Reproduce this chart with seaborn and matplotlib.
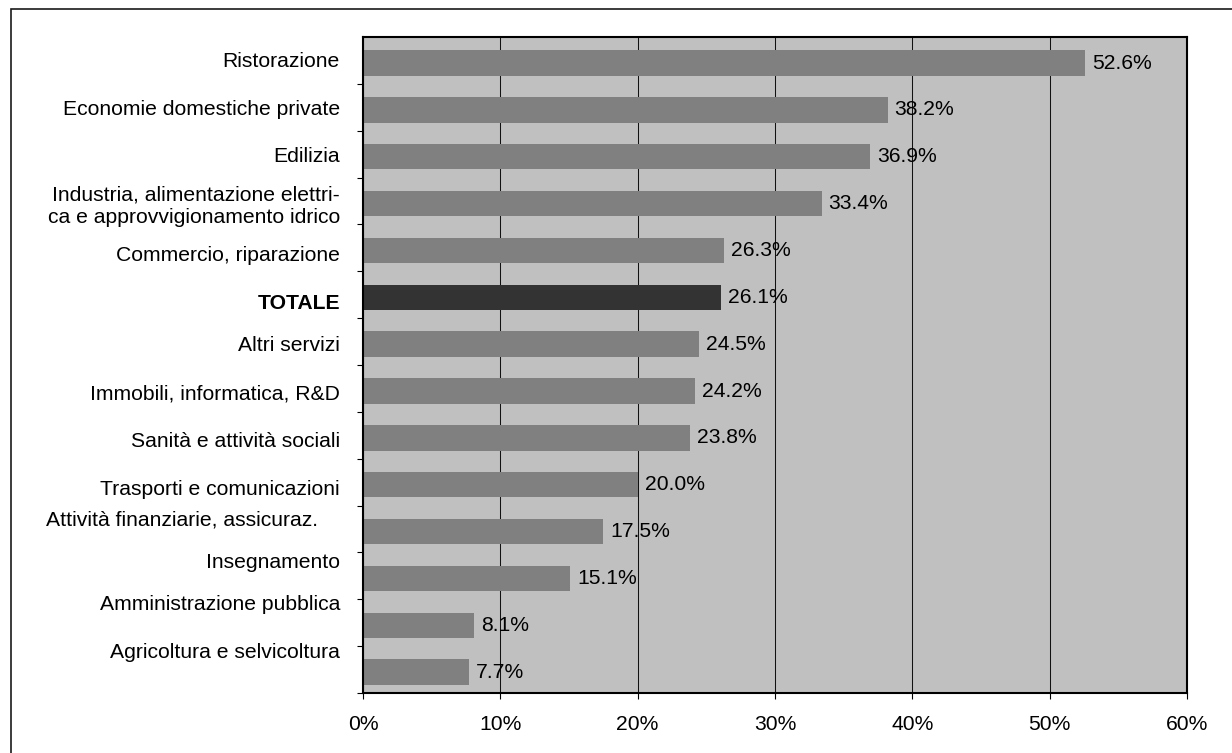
import matplotlib
matplotlib.use("Agg")
import matplotlib.pyplot as plt
from matplotlib.patches import Rectangle
import seaborn as sns
import pandas as pd

# Quota per settore (%)
settori = [
    "Ristorazione",
    "Economie domestiche private",
    "Edilizia",
    "Industria, alimentazione elettri-\nca e approvvigionamento idrico",
    "Commercio, riparazione",
    "TOTALE",
    "Altri servizi",
    "Immobili, informatica, R&D",
    "Sanità e attività sociali",
    "Trasporti e comunicazioni",
    "Attività finanziarie, assicuraz.",
    "Insegnamento",
    "Amministrazione pubblica",
    "Agricoltura e selvicoltura",
]
quote = [52.6, 38.2, 36.9, 33.4, 26.3, 26.1, 24.5, 24.2, 23.8, 20.0, 17.5, 15.1, 8.1, 7.7]
x_ticks = [0, 10, 20, 30, 40, 50, 60]

# Layout of the category labels (vertical nudge in category units, gap from axis in px)
label_dy = [-0.03, 0.0, 0.0, 0.06, 0.10, 0.14, 0.02, 0.06, 0.08, 0.11, -0.25, -0.33, -0.45, -0.43]
label_gap = [23, 23, 23, 23, 23, 23, 23, 23, 23, 23, 45, 23, 23, 23]

plt.rcParams["font.family"] = ["Liberation Sans", "DejaVu Sans"]
FS = 15.2

W, H = 1232, 753
fig = plt.figure(figsize=(W / 100, H / 100), dpi=100)
fig.patch.set_facecolor("white")

# outer frame
fig.add_artist(Rectangle((11 / W, -0.02), 1.05, 1 - 9 / H + 0.02, transform=fig.transFigure,
                         fill=False, edgecolor="#1a1a1a", lw=1.2))

ax = fig.add_axes([363 / W, 1 - 693 / H, (1187 - 363) / W, (693 - 37) / H])
ax.set_facecolor("#C0C0C0")

df = pd.DataFrame({"settore": settori, "quota": quote})
colori = {s: ("#333333" if s == "TOTALE" else "#808080") for s in settori}

sns.barplot(data=df, x="quota", y="settore", hue="settore", palette=colori,
            order=settori, hue_order=settori, dodge=False, legend=False,
            orient="h", width=0.54, saturation=1, ax=ax, edgecolor="none")

for cont in ax.containers:
    vals = [r.get_width() for r in cont]
    ax.bar_label(cont, labels=[f"{v:.1f}%" for v in vals], padding=5.0,
                 fontsize=FS, color="black")

shift = -0.055
ax.set_ylim(len(settori) - 0.5 + shift, -0.5 + shift)
ax.set_xlim(0, 60)

ax.set_xticks(x_ticks)
ax.set_xticklabels([f"{t}%" for t in x_ticks], fontsize=FS)
ax.tick_params(axis="x", length=6 * 0.72, width=0.8, pad=11.5, direction="out")

# category boundaries as tick marks, labels drawn separately
ax.set_yticks([k - 0.5 + shift for k in range(1, len(settori) + 1)])
ax.set_yticklabels([])
ax.tick_params(axis="y", length=6 * 0.72, width=0.8, direction="out")

for i, s in enumerate(settori):
    ax.annotate(s, xy=(0, i + label_dy[i]), xycoords=("axes fraction", "data"),
                xytext=(-label_gap[i], 0), textcoords="offset pixels",
                ha="right", va="center", fontsize=FS, linespacing=1.25,
                multialignment="right",
                fontweight="bold" if s == "TOTALE" else "normal")

ax.xaxis.grid(True, color="#111111", lw=0.75)
ax.yaxis.grid(False)
ax.set_axisbelow(True)
for side in ["top", "right", "bottom", "left"]:
    ax.spines[side].set_visible(True)
    ax.spines[side].set_color("black")
    ax.spines[side].set_linewidth(1.5)

ax.set_xlabel("")
ax.set_ylabel("")

fig.savefig("out.png", dpi=100)
